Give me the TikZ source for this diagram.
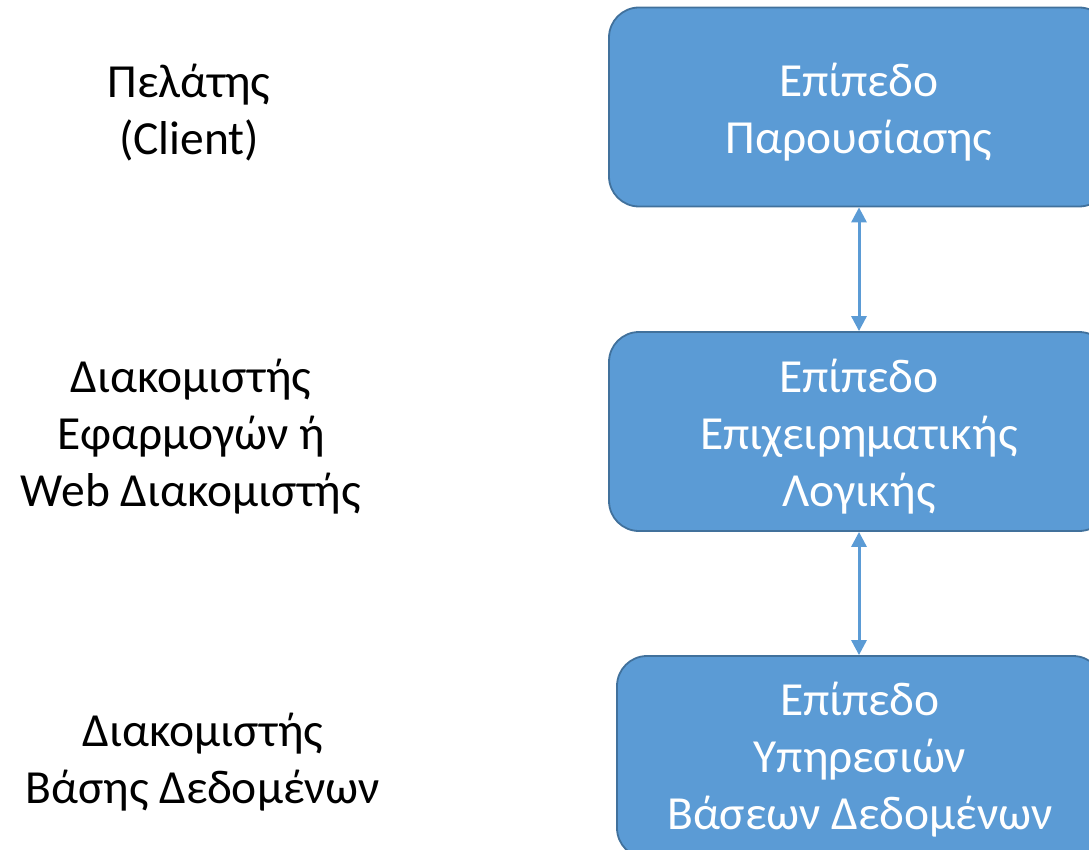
\documentclass[tikz,border=0pt]{standalone}
\usepackage{fontspec}
\setmainfont{Carlito}
\usetikzlibrary{arrows.meta}
\definecolor{boxfill}{HTML}{5B9BD5}
\definecolor{boxline}{HTML}{41719C}
\tikzset{
  layerbox/.style={draw=boxline, line width=1.8pt, fill=boxfill, rounded corners=30pt},
  boxtext/.style={align=center, text=white, font=\fontsize{47.5}{57}\selectfont, inner sep=0pt},
  sidelabel/.style={align=center, text=black, font=\fontsize{47.5}{57}\selectfont, inner sep=0pt},
  link/.style={draw=boxfill, line width=3pt, {Triangle[length=15pt,width=15pt]}-{Triangle[length=15pt,width=15pt]}}
}
\begin{document}
\begin{tikzpicture}[x=1pt,y=-1pt]
\useasboundingbox (0,0) rectangle (1089,850);
\clip (0,0) rectangle (1089,850);
\node[layerbox, minimum width=500pt, minimum height=199pt] (pres) at (859,107) {};
\node[layerbox, minimum width=500pt, minimum height=199pt] (logic) at (859,431.5) {};
\node[layerbox, minimum width=486pt, minimum height=202pt] (data) at (860,757) {};
\node[boxtext] (prestext) at (859,112) {Επίπεδο\\Παρουσίασης};
\node[boxtext] (logictext) at (859,437) {Επίπεδο\\Επιχειρηματικής\\Λογικής};
\node[boxtext] (datatext) at (860,760) {Επίπεδο\\Υπηρεσιών\\Βάσεων Δεδομένων};
\draw[link] (pres.south) -- (logic.north);
\draw[link] (logic.south) -- (logic.south |- data.north);
\node[sidelabel] (client) at (189,113) {Πελάτης\\(Client)};
\node[sidelabel] (app) at (191,437) {Διακομιστής\\Εφαρμογών ή\\Web Διακομιστής};
\node[sidelabel] (db) at (203,762) {Διακομιστής\\Βάσης Δεδομένων};
\end{tikzpicture}
\end{document}
